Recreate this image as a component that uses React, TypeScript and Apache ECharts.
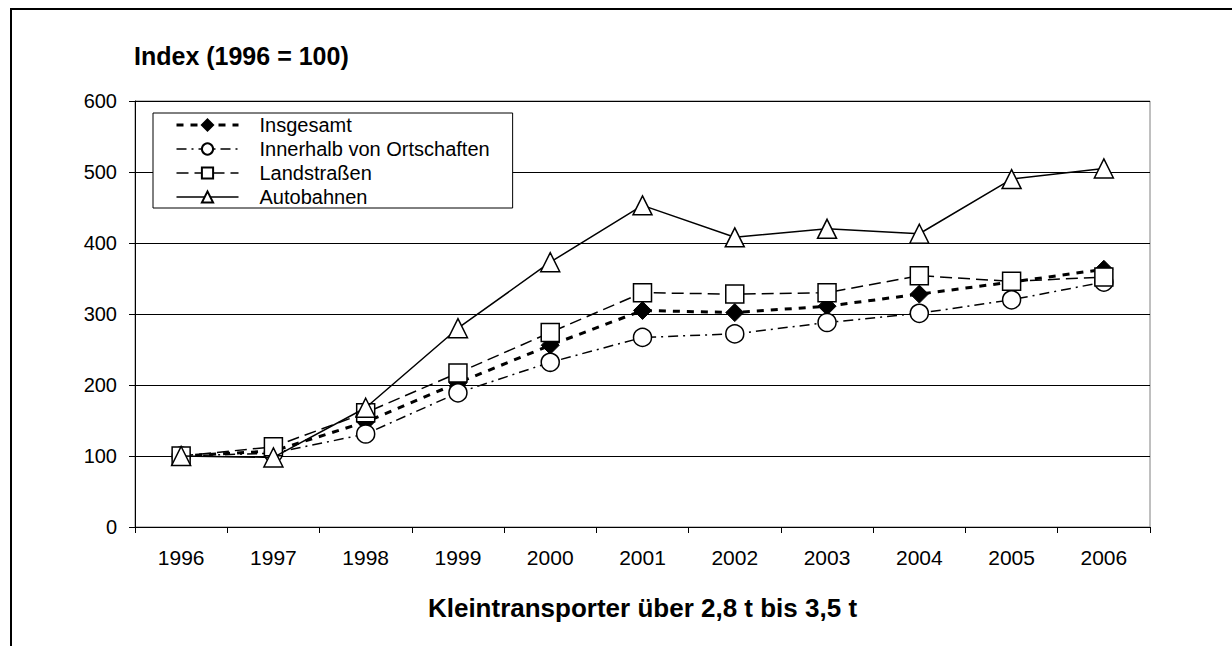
import React, { useEffect, useRef } from "react";
import * as echarts from "echarts";

const years = ["1996", "1997", "1998", "1999", "2000", "2001", "2002", "2003", "2004", "2005", "2006"];
const insgesamt = [100, 107, 148, 203, 256, 305, 302, 311, 328, 345, 363];
const innerhalb = [100, 104, 131, 189, 232, 267, 272, 288, 301, 320, 345];
const landstrassen = [100, 113, 161, 217, 274, 330, 328, 330, 354, 346, 352];
const autobahnen = [100, 98, 168, 280, 373, 453, 408, 420, 413, 490, 505];
const seriesNames = ["Insgesamt", "Innerhalb von Ortschaften", "Landstraßen", "Autobahnen"];
const yTicks = { min: 0, max: 600, interval: 100 };

const FONT = "'Liberation Sans', Arial, Helvetica, sans-serif";

export default function App() {
  const ref = useRef<HTMLDivElement>(null);
  useEffect(() => {
    if (!ref.current) return;
    const chart = echarts.init(ref.current, null, { renderer: "svg" });
    const marker = { color: "#fff", borderColor: "#000", borderWidth: 1.5 };
    chart.setOption({
      animation: false,
      backgroundColor: "#fff",
      textStyle: { fontFamily: FONT, color: "#000" },
      title: {
        text: "Index (1996 = 100)",
        left: 129,
        top: 38,
        textStyle: { fontFamily: FONT, fontWeight: "bold", fontSize: 25, color: "#000" },
      },
      legend: {
        orient: "vertical",
        left: 153,
        top: 113,
        padding: [2, 23, 1, 22],
        itemGap: 4,
        itemWidth: 62,
        itemHeight: 14,
        backgroundColor: "#fff",
        borderColor: "#000",
        borderWidth: 1,
        textStyle: { fontFamily: FONT, fontSize: 20, color: "#000", padding: [0, 0, 0, 16] },
        data: [
          { name: seriesNames[0], lineStyle: { width: 3, type: [7, 7] } },
          { name: seriesNames[1], lineStyle: { width: 1.5, type: [10, 5, 2, 5] } },
          { name: seriesNames[2], lineStyle: { width: 1.5, type: [12, 6] } },
          { name: seriesNames[3], lineStyle: { width: 1.5, type: "solid" } },
        ],
      },
      grid: {
        left: 135,
        right: 82,
        top: 101,
        bottom: 119,
        show: true,
        borderColor: "#808080",
        borderWidth: 1,
        containLabel: false,
      },
      xAxis: {
        type: "category",
        data: years,
        boundaryGap: true,
        name: "Kleintransporter über 2,8 t bis 3,5 t",
        nameLocation: "middle",
        nameGap: 68,
        nameTextStyle: { fontFamily: FONT, fontWeight: "bold", fontSize: 26, color: "#000" },
        axisLine: { lineStyle: { color: "#000", width: 1 } },
        axisTick: { show: true, length: 6, interval: 0, alignWithLabel: false, lineStyle: { color: "#000" } },
        axisLabel: { fontFamily: FONT, fontSize: 21, color: "#000", margin: 20, interval: 0 },
        splitLine: { show: false },
      },
      yAxis: {
        type: "value",
        min: yTicks.min,
        max: yTicks.max,
        interval: yTicks.interval,
        axisLine: { show: true, lineStyle: { color: "#000", width: 1 } },
        axisTick: { show: true, length: 6, lineStyle: { color: "#000" } },
        axisLabel: { fontFamily: FONT, fontSize: 20, color: "#000", margin: 18 },
        splitLine: { show: true, lineStyle: { color: "#000", width: 1 } },
      },
      series: [
        {
          name: seriesNames[0],
          type: "line",
          data: insgesamt,
          symbol: "diamond",
          symbolSize: 18,
          lineStyle: { color: "#000", width: 3, type: [7, 7] },
          itemStyle: { color: "#000", borderColor: "#000", borderWidth: 1 },
          z: 2,
        },
        {
          name: seriesNames[1],
          type: "line",
          data: innerhalb,
          symbol: "circle",
          symbolSize: 18,
          lineStyle: { color: "#000", width: 1.5, type: [10, 5, 2, 5] },
          itemStyle: marker,
          z: 3,
        },
        {
          name: seriesNames[2],
          type: "line",
          data: landstrassen,
          symbol: "rect",
          symbolSize: 18,
          lineStyle: { color: "#000", width: 1.5, type: [12, 6] },
          itemStyle: marker,
          z: 4,
        },
        {
          name: seriesNames[3],
          type: "line",
          data: autobahnen,
          symbol: "triangle",
          symbolSize: 19,
          lineStyle: { color: "#000", width: 1.5, type: "solid" },
          itemStyle: marker,
          z: 5,
        },
      ],
      graphic: [
        { type: "line", shape: { x1: 10, y1: 9, x2: 1232, y2: 9 }, style: { stroke: "#000", lineWidth: 2 } },
        { type: "line", shape: { x1: 11, y1: 8, x2: 11, y2: 646 }, style: { stroke: "#000", lineWidth: 2 } },
      ],
    });
    return () => chart.dispose();
  }, []);
  return <div ref={ref} style={{ position: "fixed", left: 0, top: 0, width: 1232, height: 646 }} />;
}
